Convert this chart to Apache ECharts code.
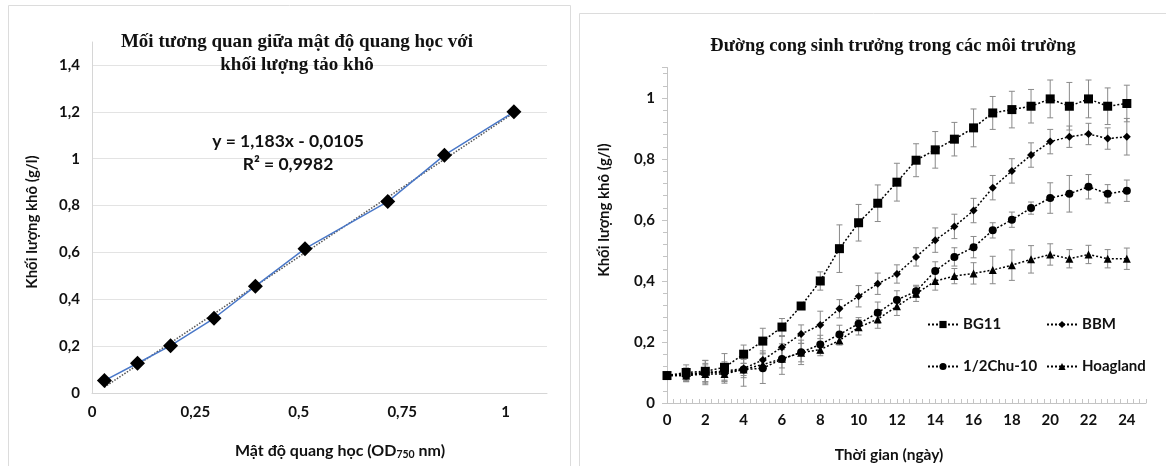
<!DOCTYPE html>
<html><head><meta charset="utf-8">
<script src="https://cdn.jsdelivr.net/npm/echarts@6/dist/echarts.min.js"></script>
<style>html,body{margin:0;padding:0;background:#fff}#c{width:1166px;height:466px}</style>
</head><body><div id="c"></div>
<script>
// ---- Left chart data ----
const odValues = [0.03, 0.11, 0.19, 0.295, 0.395, 0.515, 0.715, 0.852, 1.02];
const dryMass  = [0.053, 0.127, 0.202, 0.319, 0.456, 0.616, 0.817, 1.015, 1.2];
const trendOd   = [0.03, 1.02];
const trendMass = [0.025, 1.196];
const leftYTicks = [0, 0.2, 0.4, 0.6, 0.8, 1, 1.2, 1.4];
const leftXTicks = [0, 0.25, 0.5, 0.75, 1];

// ---- Right chart data ----
const days = [0,1,2,3,4,5,6,7,8,9,10,11,12,13,14,15,16,17,18,19,20,21,22,23,24];
const seriesNames = ['BG11', 'BBM', '1/2Chu-10', 'Hoagland'];
const bg11    = [0.09,0.10,0.104,0.117,0.16,0.203,0.249,0.318,0.40,0.506,0.591,0.655,0.724,0.796,0.83,0.865,0.902,0.951,0.962,0.973,0.997,0.973,0.997,0.973,0.982];
const bg11Err = [0,0.025,0.035,0.045,0.03,0.042,0.028,0.01,0.03,0.078,0.06,0.06,0.062,0.054,0.06,0.055,0.062,0.054,0.06,0.055,0.062,0.078,0.062,0.06,0.06];
const bbm     = [0.09,0.095,0.10,0.105,0.113,0.141,0.183,0.226,0.256,0.309,0.35,0.391,0.423,0.479,0.534,0.579,0.631,0.706,0.761,0.813,0.857,0.873,0.882,0.867,0.873];
const bbmErr  = [0,0.02,0.04,0.03,0.03,0.03,0.035,0.03,0.045,0.03,0.035,0.035,0.03,0.03,0.04,0.04,0.04,0.04,0.04,0.04,0.04,0.035,0.035,0.035,0.06];
const chu     = [0.09,0.09,0.10,0.10,0.11,0.114,0.144,0.166,0.192,0.225,0.26,0.296,0.338,0.366,0.433,0.479,0.511,0.566,0.601,0.639,0.672,0.686,0.709,0.686,0.696];
const chuErr  = [0,0.02,0.03,0.03,0.055,0.05,0.05,0.04,0.03,0.03,0.02,0.035,0.03,0.02,0.03,0.03,0.035,0.025,0.025,0.02,0.05,0.06,0.04,0.03,0.035];
const hoag    = [0.09,0.09,0.095,0.095,0.11,0.126,0.145,0.165,0.175,0.205,0.248,0.275,0.317,0.358,0.40,0.416,0.425,0.436,0.452,0.471,0.487,0.473,0.487,0.473,0.473];
const hoagErr = [0,0.02,0.03,0.03,0.02,0.02,0.03,0.03,0.02,0.015,0.025,0.03,0.03,0.025,0.03,0.025,0.035,0.045,0.05,0.045,0.035,0.03,0.03,0.03,0.035];
const rightYTicks = [0, 0.2, 0.4, 0.6, 0.8, 1];
const rightXTicks = [0,2,4,6,8,10,12,14,16,18,20,22,24];

const SANS = 'Lato';
const SERIF = 'Liberation Serif';
const TXT = '#111';

function fmtComma(v){ return String(+v.toFixed(4)).replace('.', ','); }
function inList(list, v){ return list.some(t => Math.abs(t - v) < 1e-6); }

const chart = echarts.init(document.getElementById('c'), null, {renderer:'canvas'});

function pairs(xs, ys){ return xs.map((x,i)=>[x, ys[i]]); }
function errData(vals, errs){ return days.map((d,i)=>[d, vals[i]-errs[i], vals[i]+errs[i]]); }
function errRender(params, api){
  const x = api.value(0), lo = api.value(1), hi = api.value(2);
  if (hi - lo < 1e-9) return null;
  const p1 = api.coord([x, lo]), p2 = api.coord([x, hi]);
  const w = 3;
  const st = {stroke:'#8a8a8a', lineWidth:1};
  return {type:'group', children:[
    {type:'line', shape:{x1:p1[0], y1:p1[1], x2:p2[0], y2:p2[1]}, style:st},
    {type:'line', shape:{x1:p1[0]-w, y1:p1[1], x2:p1[0]+w, y2:p1[1]}, style:st},
    {type:'line', shape:{x1:p2[0]-w, y1:p2[1], x2:p2[0]+w, y2:p2[1]}, style:st}
  ]};
}

const labelStyle = {fontFamily:SANS, fontWeight:'bold', fontSize:15, color:TXT};
const lineDefs = [
  {name:'BG11', data:bg11, err:bg11Err, symbol:'rect', size:9},
  {name:'BBM', data:bbm, err:bbmErr, symbol:'diamond', size:8},
  {name:'1/2Chu-10', data:chu, err:chuErr, symbol:'circle', size:8},
  {name:'Hoagland', data:hoag, err:hoagErr, symbol:'triangle', size:8}
];

const series = [
  {type:'line', name:'trend', xAxisIndex:1, yAxisIndex:1, data:pairs(trendOd, trendMass), symbol:'none',
   lineStyle:{color:'#555', width:1.5, type:'dotted'}, z:2, silent:true},
  {type:'line', name:'measured', xAxisIndex:1, yAxisIndex:1, data:pairs(odValues, dryMass), symbol:'diamond', symbolSize:15,
   itemStyle:{color:'#000'}, lineStyle:{color:'#4a78c8', width:1.5}, z:3}
];
lineDefs.forEach(d=>{
  series.push({type:'custom', xAxisIndex:2, yAxisIndex:2, renderItem:errRender, data:errData(d.data, d.err),
    encode:{x:0, y:[1,2]}, z:1, silent:true});
});
lineDefs.forEach(d=>{
  series.push({type:'line', name:d.name, xAxisIndex:2, yAxisIndex:2, data:pairs(days, d.data),
    symbol:d.symbol, symbolSize:d.size, itemStyle:{color:'#000'},
    lineStyle:{color:'#000', width:1.5, type:[2,2]}, z:3});
});

const legendPos = [
  {name:'BG11', left:922, top:312},
  {name:'BBM', left:1041, top:312},
  {name:'1/2Chu-10', left:922, top:354},
  {name:'Hoagland', left:1041, top:354}
];

const option = {
  animation:false,
  backgroundColor:'#fff',
  title:[
    {text:'Mối tương quan giữa mật độ quang học với\nkhối lượng tảo khô', left:292, top:26, textAlign:'center',
     textStyle:{fontFamily:SERIF, fontWeight:'bold', fontSize:19, lineHeight:23, color:TXT}},
    {text:'y = 1,183x - 0,0105\nR² = 0,9982', left:283, top:125, textAlign:'center',
     textStyle:{fontFamily:SANS, fontWeight:'bold', fontSize:17.5, lineHeight:23, color:TXT}},
    {text:'Mật độ quang học (OD{sub|750} nm)', left:335, top:437, textAlign:'center',
     textStyle:{fontFamily:SANS, fontWeight:'bold', fontSize:16, color:TXT,
       rich:{sub:{fontFamily:SANS, fontWeight:'bold', fontSize:10.5, color:TXT, padding:[7,0,0,0]}}}},
    {text:'Đường cong sinh trưởng trong các môi trường', left:888, top:32, textAlign:'center',
     textStyle:{fontFamily:SERIF, fontWeight:'bold', fontSize:18.5, color:TXT}},
    {text:'Thời gian (ngày)', left:884, top:442, textAlign:'center',
     textStyle:{fontFamily:SANS, fontWeight:'bold', fontSize:15.5, color:TXT}}
  ],
  legend: legendPos.map(p=>({data:[p.name], left:p.left, top:p.top, itemWidth:30, itemHeight:9, itemGap:0,
    selectedMode:false, textStyle:{fontFamily:SANS, fontWeight:'bold', fontSize:15, color:TXT, padding:[0,0,0,0]}})),
  grid:[
    {left:92, right:619, top:42, bottom:73},
    {left:92, right:619, top:65, bottom:73},
    {left:667, right:20, top:67.5, bottom:63}
  ],
  xAxis:[
    {type:'value', gridIndex:0, min:0, max:1.1, axisLine:{show:true, lineStyle:{color:'#d6d6d6', width:1}},
     axisTick:{show:false}, axisLabel:{show:false}, splitLine:{show:false}},
    {type:'value', gridIndex:1, min:0, max:1.1, interval:0.25, axisLine:{show:false}, axisTick:{show:false},
     splitLine:{show:false},
     axisLabel:Object.assign({margin:12, formatter:v=>inList(leftXTicks, v)?fmtComma(v):''}, labelStyle)},
    {type:'value', gridIndex:2, min:0, max:25, interval:2,
     axisLine:{show:true, lineStyle:{color:'#c4c4c4', width:1}},
     axisTick:{show:true, inside:true, length:4, lineStyle:{color:'#c4c4c4'}},
     minorTick:{show:true, splitNumber:6, length:4, lineStyle:{color:'#c4c4c4'}},
     splitLine:{show:false},
     axisLabel:Object.assign({margin:10, formatter:v=>inList(rightXTicks, v)?String(v):''}, labelStyle)}
  ],
  yAxis:[
    {type:'value', gridIndex:0, min:0, max:1.5, axisLine:{show:true, lineStyle:{color:'#d6d6d6', width:1}},
     axisTick:{show:false}, axisLabel:{show:false}, splitLine:{show:false}},
    {type:'value', gridIndex:1, min:0, max:1.4, interval:0.2, axisLine:{show:false}, axisTick:{show:false},
     splitLine:{show:true, lineStyle:{color:'#e3e3e3', width:1}},
     axisLabel:Object.assign({margin:12, formatter:v=>inList(leftYTicks, v)?fmtComma(v):''}, labelStyle)},
    {type:'value', gridIndex:2, min:0, max:1.1, interval:0.2,
     axisLine:{show:true, lineStyle:{color:'#c4c4c4', width:1}},
     axisTick:{show:true, length:5, lineStyle:{color:'#c4c4c4'}},
     minorTick:{show:true, splitNumber:5, length:4, lineStyle:{color:'#c4c4c4'}},
     splitLine:{show:false},
     axisLabel:Object.assign({margin:12, formatter:v=>inList(rightYTicks, v)?fmtComma(v):''}, labelStyle)}
  ],
  graphic:[
    {type:'rect', shape:{x:8.5, y:5.5, width:562, height:470}, style:{fill:'none', stroke:'#dcdcdc', lineWidth:1}, silent:true, z:-10},
    {type:'rect', shape:{x:579.5, y:13.5, width:600, height:470}, style:{fill:'none', stroke:'#dcdcdc', lineWidth:1}, silent:true, z:-10},
    {type:'text', x:32, y:222, rotation:Math.PI/2, silent:true,
     style:{text:'Khối lượng khô (g/l)', align:'center', verticalAlign:'middle', font:'bold 15px Lato', fill:TXT}},
    {type:'text', x:604, y:210, rotation:Math.PI/2, silent:true,
     style:{text:'Khối lượng khô (g/l)', align:'center', verticalAlign:'middle', font:'bold 15px Lato', fill:TXT}}
  ],
  series: series
};
chart.setOption(option);
</script>
</body></html>
